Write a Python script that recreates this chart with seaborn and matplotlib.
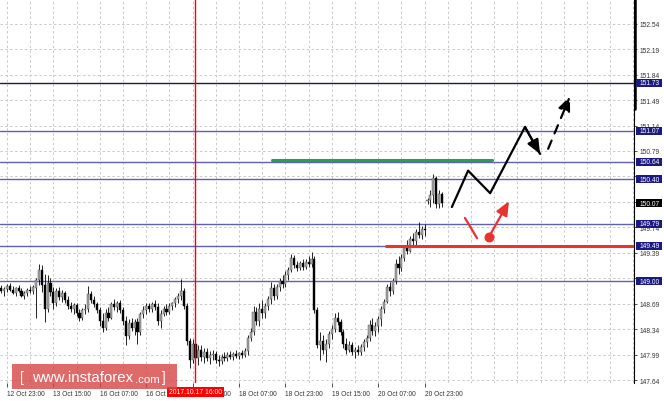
import numpy as np
import pandas as pd
import matplotlib.pyplot as plt
import seaborn as sns
from matplotlib.patches import Rectangle

# ------------------------------------------------------------
# DATA  (USD/JPY H1)
# ------------------------------------------------------------
first_bar = -2  # bar numbers count from the "12 Oct 23:00" candle

opens = [148.90, 148.86, 148.89, 148.93, 148.88, 148.84, 148.90, 148.87, 148.80, 148.84,
         148.88, 148.86, 148.90, 149.02, 149.15, 148.95, 148.62, 148.98, 148.85, 148.70,
         148.86, 148.78, 148.84, 148.74, 148.66, 148.62, 148.67, 148.56, 148.50, 148.60,
         148.62, 148.82, 148.74, 148.68, 148.60, 148.45, 148.36, 148.56, 148.50, 148.68,
         148.65, 148.70, 148.60, 148.45, 148.25, 148.42, 148.36, 148.44, 148.30, 148.55,
         148.60, 148.66, 148.62, 148.68, 148.64, 148.45, 148.55, 148.62, 148.58, 148.66,
         148.70, 148.75, 148.80, 148.86, 148.66, 148.18, 147.92, 148.14, 147.95, 148.06,
         147.96, 148.02, 147.94, 147.98, 148.00, 147.92, 147.90, 147.96, 147.94, 147.99,
         147.96, 148.00, 147.97, 148.01, 147.98, 148.04, 148.22, 148.30, 148.58, 148.45,
         148.62, 148.56, 148.66, 148.75, 148.90, 148.80, 148.92, 149.00, 148.96, 149.08,
         149.16, 149.32, 149.22, 149.18, 149.25, 149.20, 149.26, 149.24, 149.30, 148.60,
         148.12, 148.18, 148.06, 148.14, 148.28, 148.34, 148.50, 148.44, 148.30, 148.14,
         148.06, 148.12, 148.02, 148.06, 148.02, 148.10, 148.16, 148.22, 148.40, 148.32,
         148.38, 148.48, 148.62, 148.72, 148.92, 148.86, 149.00, 149.24, 149.18, 149.32,
         149.46, 149.42, 149.58, 149.55, 149.68, 149.64, 149.72, 150.10, 150.12, 150.18,
         150.42, 150.06, 150.20]
highs = [148.95, 148.92, 148.96, 148.97, 148.93, 148.92, 148.95, 148.90, 148.86, 148.90,
         148.93, 148.95, 149.05, 149.24, 149.22, 149.10, 149.08, 149.05, 148.92, 148.90,
         148.92, 148.88, 148.87, 148.80, 148.72, 148.70, 148.70, 148.62, 148.63, 148.68,
         148.93, 148.86, 148.80, 148.72, 148.64, 148.56, 148.62, 148.65, 148.72, 148.75,
         148.73, 148.74, 148.64, 148.52, 148.48, 148.50, 148.48, 148.50, 148.58, 148.66,
         148.70, 148.70, 148.72, 148.74, 148.70, 148.60, 148.66, 148.68, 148.70, 148.72,
         148.78, 148.84, 149.03, 148.90, 148.70, 148.22, 148.20, 148.20, 148.12, 148.12,
         148.08, 148.08, 148.04, 148.06, 148.04, 147.98, 148.00, 148.02, 148.02, 148.04,
         148.03, 148.06, 148.03, 148.05, 148.08, 148.26, 148.36, 148.66, 148.64, 148.70,
         148.74, 148.70, 148.80, 148.99, 148.96, 148.96, 149.05, 149.08, 149.14, 149.20,
         149.37, 149.36, 149.28, 149.28, 149.30, 149.30, 149.34, 149.40, 149.34, 148.64,
         148.30, 148.26, 148.20, 148.32, 148.40, 148.56, 148.58, 148.48, 148.34, 148.22,
         148.18, 148.16, 148.10, 148.12, 148.14, 148.20, 148.26, 148.46, 148.50, 148.44,
         148.52, 148.66, 148.76, 148.96, 148.99, 149.04, 149.30, 149.34, 149.38, 149.50,
         149.56, 149.62, 149.66, 149.72, 149.81, 149.76, 149.78, 150.14, 150.25, 150.47,
         150.44, 150.26, 150.22]
lows = [148.84, 148.80, 148.85, 148.86, 148.82, 148.80, 148.85, 148.78, 148.76, 148.80,
        148.84, 148.83, 148.50, 148.95, 148.85, 148.44, 148.58, 148.80, 148.62, 148.66,
        148.74, 148.72, 148.70, 148.62, 148.58, 148.55, 148.52, 148.45, 148.47, 148.55,
        148.58, 148.70, 148.64, 148.56, 148.38, 148.30, 148.33, 148.45, 148.48, 148.60,
        148.58, 148.56, 148.40, 148.12, 148.20, 148.32, 148.26, 148.14, 148.26, 148.50,
        148.55, 148.58, 148.58, 148.60, 148.40, 148.36, 148.52, 148.54, 148.55, 148.60,
        148.64, 148.70, 148.74, 148.62, 148.12, 147.80, 147.88, 147.86, 147.85, 147.90,
        147.88, 147.90, 147.86, 147.92, 147.88, 147.84, 147.86, 147.90, 147.90, 147.93,
        147.92, 147.94, 147.93, 147.95, 147.96, 147.98, 148.18, 148.26, 148.40, 148.38,
        148.50, 148.50, 148.60, 148.68, 148.74, 148.76, 148.86, 148.90, 148.92, 149.02,
        149.12, 149.18, 149.14, 149.15, 149.16, 149.17, 149.20, 149.20, 148.56, 148.08,
        147.92, 148.00, 147.89, 148.08, 148.20, 148.30, 148.40, 148.26, 148.08, 148.00,
        148.02, 147.98, 147.95, 147.98, 147.99, 148.04, 148.10, 148.18, 148.26, 148.24,
        148.30, 148.38, 148.56, 148.70, 148.80, 148.82, 148.96, 149.10, 149.14, 149.28,
        149.38, 149.40, 149.50, 149.50, 149.60, 149.58, 149.62, 150.06, 150.02, 150.08,
        150.00, 150.00, 150.02]
closes = [148.86, 148.89, 148.93, 148.88, 148.84, 148.90, 148.87, 148.80, 148.84, 148.88,
          148.86, 148.92, 149.02, 149.15, 148.95, 148.62, 148.98, 148.85, 148.70, 148.86,
          148.78, 148.84, 148.74, 148.66, 148.62, 148.67, 148.56, 148.50, 148.60, 148.62,
          148.82, 148.74, 148.68, 148.60, 148.45, 148.36, 148.56, 148.50, 148.68, 148.65,
          148.70, 148.60, 148.45, 148.25, 148.42, 148.36, 148.44, 148.30, 148.55, 148.60,
          148.66, 148.62, 148.68, 148.64, 148.45, 148.55, 148.62, 148.58, 148.66, 148.70,
          148.75, 148.80, 148.86, 148.66, 148.18, 147.92, 148.14, 147.95, 148.06, 147.96,
          148.02, 147.94, 147.98, 148.00, 147.92, 147.90, 147.96, 147.94, 147.99, 147.96,
          148.00, 147.97, 148.01, 147.98, 148.04, 148.22, 148.30, 148.58, 148.45, 148.62,
          148.56, 148.66, 148.75, 148.90, 148.80, 148.92, 149.00, 148.96, 149.08, 149.16,
          149.32, 149.22, 149.18, 149.25, 149.20, 149.26, 149.24, 149.30, 148.60, 148.12,
          148.18, 148.06, 148.14, 148.28, 148.34, 148.50, 148.44, 148.30, 148.14, 148.06,
          148.12, 148.02, 148.06, 148.02, 148.10, 148.16, 148.22, 148.40, 148.32, 148.38,
          148.48, 148.62, 148.72, 148.92, 148.86, 149.00, 149.24, 149.18, 149.32, 149.46,
          149.42, 149.58, 149.55, 149.68, 149.64, 149.72, 149.70, 150.12, 150.18, 150.42,
          150.06, 150.20, 150.07]

# time axis labels (every 16 bars)
time_ticks = [0, 16, 32, 48, 64, 80, 96, 112, 128, 144]
time_labels = ["12 Oct 23:00", "13 Oct 15:00", "16 Oct 07:00", "16 Oct 23:00", "17 Oct 15:00",
               "18 Oct 07:00", "18 Oct 23:00", "19 Oct 15:00", "20 Oct 07:00", "20 Oct 23:00"]
grid_bars = list(range(0, 224, 8))
price_ticks = [147.64, 147.99, 148.34, 148.69, 149.04, 149.39, 149.74, 150.09,
               150.44, 150.79, 151.14, 151.49, 151.84, 152.19, 152.54]
# 149.04 and 150.09 sit completely under the highlighted boxes in the original
price_labels = ["147.64", "147.99", "148.34", "148.69", "", "149.39", "149.74", "",
                "150.44", "150.79", "151.14", "151.49", "151.84", "152.19", "152.54"]

# analyst levels
levels = [151.73, 151.07, 150.64, 150.40, 149.79, 149.49, 149.00]
current_price = 150.07
marker_bar = 65
marker_label = "2017.10.17 16:00"

# forecast sketch (bar number, price)
green_x = [91.4, 167.2]
green_y = [150.66, 150.66]
red_level_x = [130.7, 216.2]
red_level_y = [149.49, 149.49]
black_path_x = [153.4, 159.0, 166.6, 178.6, 183.8]
black_path_y = [150.02, 150.52, 150.21, 151.12, 150.75]
dashed_x = [186.6, 194.1]
dashed_y = [150.82, 151.54]
red_stroke_x = [157.9, 162.1]
red_stroke_y = [149.87, 149.59]
red_arrow_x = [166.2, 173.1]
red_arrow_y = [149.61, 150.10]

df = pd.DataFrame({"open": opens, "high": highs, "low": lows, "close": closes})
df["bar"] = np.arange(first_bar, first_bar + len(df))
df["up"] = df["close"] >= df["open"]

# ------------------------------------------------------------
# FIGURE
# ------------------------------------------------------------
sns.set_theme(style="white")
plt.rcParams["font.family"] = ["Liberation Sans", "DejaVu Sans"]

fig = plt.figure(figsize=(6.64, 4.02), dpi=100)
ax = fig.add_axes([0, 18 / 402, 634 / 664, 384 / 402])
ax.set_xlim(-2.41, 216.2)
ax.set_ylim(147.60, 152.88)

# grid
ax.set_xticks(grid_bars, minor=True)
ax.set_xticks(time_ticks, time_labels)
ax.set_yticks(price_ticks, price_labels)
grid_kw = dict(color="#c9c9c9", linewidth=0.7, linestyle=(0, (2.5, 2.5)))
ax.grid(which="both", axis="x", **grid_kw)
ax.grid(which="major", axis="y", **grid_kw)
ax.set_axisbelow(True)

# candles
ax.vlines(df["bar"], df["low"], df["high"], color="black", linewidth=0.6, zorder=3)
body = (df["close"] - df["open"]).abs().clip(lower=0.008)
bottom = df[["open", "close"]].min(axis=1)
ax.bar(df["bar"][df["up"]], body[df["up"]], bottom=bottom[df["up"]], width=0.72,
       color="#a8a8a8", edgecolor="#444444", linewidth=0.3, zorder=4)
ax.bar(df["bar"][~df["up"]], body[~df["up"]], bottom=bottom[~df["up"]], width=0.72,
       color="black", edgecolor="black", linewidth=0.3, zorder=4)

# horizontal levels
for lv in levels:
    col = "#1c1c3c" if lv == 151.73 else "#6060b2"
    ax.axhline(lv, color=col, linewidth=1.0, zorder=2)

# marker line
ax.axvline(marker_bar, color="#ff0000", linewidth=1.0, zorder=5)

# forecast sketch
sns.lineplot(x=green_x, y=green_y, color="#25a149", linewidth=2.2, ax=ax, zorder=6)
sns.lineplot(x=red_level_x, y=red_level_y, color="#e8332f", linewidth=2.2, ax=ax, zorder=6)
sns.lineplot(x=black_path_x, y=black_path_y, sort=False, color="black", linewidth=1.6,
             ax=ax, zorder=7)
ax.annotate("", xy=(black_path_x[-1], black_path_y[-1]),
            xytext=(black_path_x[-2], black_path_y[-2]),
            arrowprops=dict(arrowstyle="-|>,head_length=0.7,head_width=0.3", color="black",
                            lw=1.6, shrinkA=0, shrinkB=0), zorder=7)
ax.annotate("", xy=(dashed_x[1], dashed_y[1]), xytext=(dashed_x[0], dashed_y[0]),
            arrowprops=dict(arrowstyle="-|>,head_length=0.7,head_width=0.3", color="black",
                            lw=1.6, linestyle=(0, (4, 3.5)), shrinkA=0, shrinkB=0), zorder=7)
sns.lineplot(x=red_stroke_x, y=red_stroke_y, color="#e8332f", linewidth=1.6, ax=ax, zorder=7)
ax.annotate("", xy=(red_arrow_x[1], red_arrow_y[1]), xytext=(red_arrow_x[0], red_arrow_y[0]),
            arrowprops=dict(arrowstyle="-|>,head_length=0.7,head_width=0.3", color="#e8332f",
                            lw=1.6, shrinkA=0, shrinkB=0), zorder=7)
ax.scatter([red_arrow_x[0]], [red_arrow_y[0]], s=38, color="#e8332f", zorder=8)

# axes cosmetics
for side in ["left", "top", "bottom"]:
    ax.spines[side].set_visible(False)
ax.spines["right"].set_color("black")
ax.spines["right"].set_linewidth(0.8)
ax.yaxis.tick_right()
ax.tick_params(axis="y", which="major", right=True, length=2, width=0.6, pad=2,
               labelsize=4.8, colors="#333333", labelcolor="#333333")
ax.tick_params(axis="x", which="major", bottom=True, length=3, width=0.6, pad=2,
               labelsize=4.8, labelcolor="#333333", color="#333333")
ax.tick_params(axis="x", which="minor", bottom=False, length=0)
for lab in ax.get_xticklabels():
    lab.set_horizontalalignment("left")
ax.set_xlabel("")
ax.set_ylabel("")

# thick scroll bar on price axis
ax.plot([1.0015, 1.0015], [151.37, 152.88], transform=ax.get_yaxis_transform(),
        color="black", linewidth=1.8, clip_on=False, zorder=9)

# highlighted price labels
yt = ax.get_yaxis_transform()
for lv in levels + [current_price]:
    fc = "black" if lv == current_price else "#1a1a80"
    ax.add_patch(Rectangle((1.003, lv - 0.055), 0.041, 0.11, transform=yt, facecolor=fc,
                           edgecolor="none", clip_on=False, zorder=10))
    ax.text(1.008, lv, f"{lv:.2f}", transform=yt, color="white", fontsize=4.8,
            va="center", ha="left", clip_on=False, zorder=11)

# marker date label
ax.annotate(marker_label, xy=(marker_bar, 0), xycoords=ax.get_xaxis_transform(),
            xytext=(0, -6.3), textcoords="offset points", ha="center", va="center",
            fontsize=4.9, color="white", annotation_clip=False, zorder=12,
            bbox=dict(boxstyle="square,pad=0.25", fc="#ff0000", ec="none"))

# watermark
fig.patches.append(Rectangle((12 / 664, 12 / 402), 165 / 664, 25 / 402,
                             transform=fig.transFigure, facecolor="#d64545",
                             alpha=0.8, edgecolor="none", zorder=20))
wy = 24 / 402
fig.text(20 / 664, wy, "[", color="white", fontsize=10, va="center", ha="left", zorder=21)
fig.text(32 / 664, wy, "www.instaforex", color="white", fontsize=10.8, va="center",
         ha="left", zorder=21)
fig.text(135 / 664, wy - 0.004, ".com", color="white", fontsize=8.2, va="center",
         ha="left", zorder=21)
fig.text(162 / 664, wy, "]", color="white", fontsize=10, va="center", ha="left", zorder=21)

plt.savefig("out.png", dpi=100)
